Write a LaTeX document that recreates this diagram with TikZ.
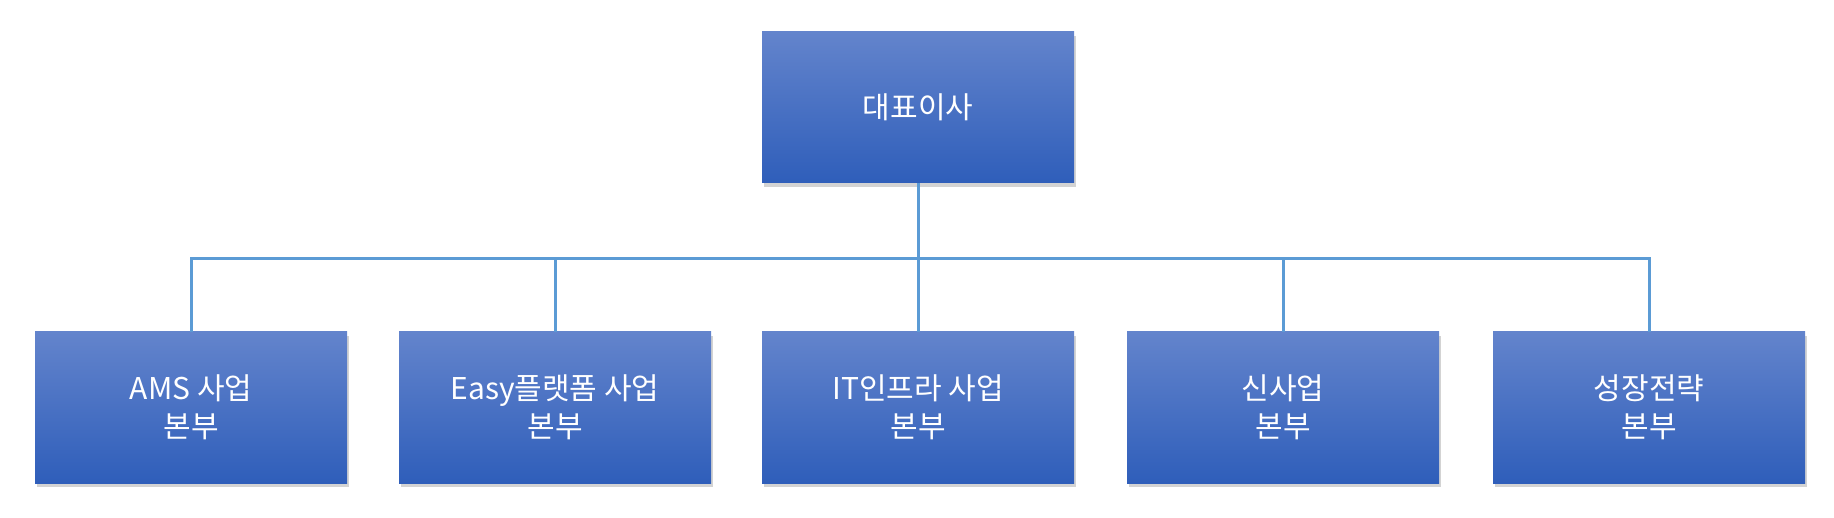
\documentclass[tikz,border=0pt]{standalone}
\usepackage{fontspec}
\setmainfont{Noto Sans CJK KR}
\usetikzlibrary{shadows}
\definecolor{btop}{HTML}{6384CC}
\definecolor{bbot}{HTML}{2F5EBA}
\definecolor{lnk}{HTML}{5B9BD5}
\tikzset{
 org/.style={minimum width=312pt,minimum height=151pt,inner sep=0pt,top color=btop,bottom color=bbot,
   drop shadow={shadow xshift=2pt,shadow yshift=-4pt,opacity=0.35},text=white,align=center,
   font=\fontsize{30}{38}\selectfont},
 conn/.style={draw=lnk,line width=3pt}
}
\begin{document}
\begin{tikzpicture}[x=1pt,y=-1pt]
\useasboundingbox (0,0) rectangle (1834,518);
\node[org] (ceo) at (918,107.5) {대표이사};
\node[org] (a) at (191,407.5) {AMS 사업\\본부};
\node[org] (b) at (555,407.5) {Easy플랫폼 사업\\본부};
\node[org] (c) at (918,407.5) {IT인프라 사업\\본부};
\node[org] (d) at (1283,407.5) {신사업\\본부};
\node[org] (e) at (1649,407.5) {성장전략\\본부};
\coordinate (bar) at (918,259);
\draw[conn] (ceo.south) -- (bar);
\draw[conn] (a.north) |- (bar) -| (e.north);
\draw[conn] (b.north) -- (b.north|-bar);
\draw[conn] (c.north) -- (bar);
\draw[conn] (d.north) -- (d.north|-bar);
\end{tikzpicture}
\end{document}
